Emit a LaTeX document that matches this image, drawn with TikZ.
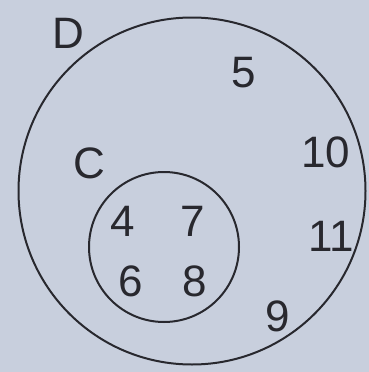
\documentclass[tikz,border=0pt]{standalone}
\usepackage{fontspec}
\setmainfont{Liberation Sans}
\usepackage{tikz}
\usetikzlibrary{calc}
\usetikzlibrary{shapes}

\definecolor{paper}{RGB}{200,207,221}
\definecolor{ink}{RGB}{40,40,46}

\tikzset{
  setline/.style={draw=ink, line width=2pt, circle, inner sep=0pt},
  elem/.style={text=ink, inner sep=0pt, font=\fontsize{44}{48}\selectfont},
}

\begin{document}
\begin{tikzpicture}[x=1pt, y=-1pt]
\fill[paper] (0,0) rectangle (369,372);
\useasboundingbox (0,0) rectangle (369,372);
\node[name=setD, setline, minimum size=347pt] at (192,191) {};
\node[name=setC, setline, minimum size=150pt] at (164,247) {};
\node[name=labD, elem] at (68,33) {D};
\node[name=labC, elem] at (89,163) {C};
\node[name=el_5, elem] at (244,73) {5};
\node[name=el_10, elem] at (326,152) {10};
\node[name=el_11, elem] at (331,236) {11};
\node[name=el_9, elem] at (278,316) {9};
\node[name=el_4, elem] at (123,221) {4};
\node[name=el_7, elem] at (193,221) {7};
\node[name=el_6, elem] at (131,281) {6};
\node[name=el_8, elem] at (195,281) {8};
\end{tikzpicture}
\end{document}
